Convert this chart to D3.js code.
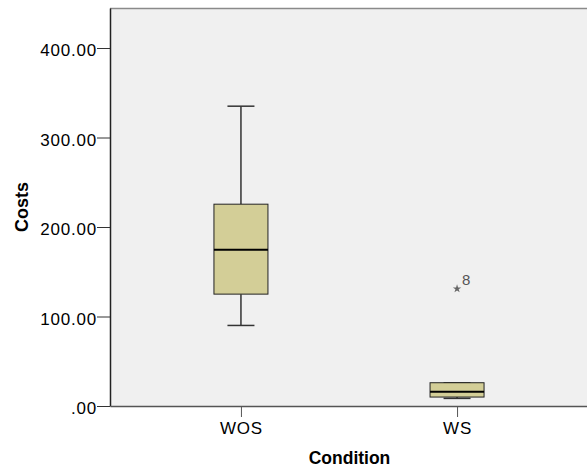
<!DOCTYPE html>
<html><head><meta charset="utf-8">
<script src="https://cdn.jsdelivr.net/npm/d3@7"></script>
<style>body{margin:0;background:#fff}svg{display:block;font-family:"Liberation Sans",Arial,sans-serif}</style>
</head><body><svg id="c" width="587" height="468"></svg>
<script>
const categories = ["WOS", "WS"];
const mins = [90, 8.5];
const q1s = [125, 10];
const medians = [174.5, 16];
const q3s = [225.5, 26];
const maxs = [335, 26];
const outliers = [{cat: "WS", value: 131, label: "8"}];
const yTicks = [0, 100, 200, 300, 400];

const svg = d3.select("#c");
const L = 110, R = 588, T = 8, B = 406;
const y = d3.scaleLinear().domain([0, 444.7]).range([B, T]);
const x = d3.scalePoint().domain(categories).range([L, R]).padding(0.606);

svg.append("rect").attr("x", L).attr("y", T).attr("width", R - L).attr("height", B - T).attr("fill", "#f0f0f0");
svg.append("line").attr("x1", L).attr("x2", R).attr("y1", T + 0.5).attr("y2", T + 0.5).attr("stroke", "#8a8a8a").attr("stroke-width", 1.5);

const bw = 54, cw = 27;
const data = categories.map((c, i) => ({c, min: mins[i], q1: q1s[i], med: medians[i], q3: q3s[i], max: maxs[i]}));
const g = svg.append("g");
data.forEach(d => {
  const cx = x(d.c);
  g.append("line").attr("x1", cx).attr("x2", cx).attr("y1", y(d.max)).attr("y2", y(d.q3)).attr("stroke", "#333").attr("stroke-width", 1.5);
  g.append("line").attr("x1", cx).attr("x2", cx).attr("y1", y(d.q1)).attr("y2", y(d.min)).attr("stroke", "#333").attr("stroke-width", 1.5);
  g.append("line").attr("x1", cx - cw / 2).attr("x2", cx + cw / 2).attr("y1", y(d.max)).attr("y2", y(d.max)).attr("stroke", "#333").attr("stroke-width", 1.5);
  g.append("line").attr("x1", cx - cw / 2).attr("x2", cx + cw / 2).attr("y1", y(d.min)).attr("y2", y(d.min)).attr("stroke", "#333").attr("stroke-width", 1.5);
  g.append("rect").attr("x", cx - bw / 2).attr("y", y(d.q3)).attr("width", bw).attr("height", y(d.q1) - y(d.q3))
    .attr("fill", "#d3ce97").attr("stroke", "#222").attr("stroke-width", 1);
  g.append("line").attr("x1", cx - bw / 2).attr("x2", cx + bw / 2).attr("y1", y(d.med)).attr("y2", y(d.med)).attr("stroke", "#000").attr("stroke-width", 2);
});

outliers.forEach(o => {
  const cx = x(o.cat), cy = y(o.value);
  svg.append("path").attr("d", d3.symbol(d3.symbolStar, 22)()).attr("transform", `translate(${cx},${cy})`).attr("fill", "#666");
  svg.append("text").attr("x", cx + 5).attr("y", cy - 4).attr("font-size", 15).attr("fill", "#555").text(o.label);
});

const yAxis = svg.append("g").attr("transform", `translate(${L},0)`)
  .call(d3.axisLeft(y).tickValues(yTicks).tickSize(13).tickSizeOuter(0).tickPadding(0).tickFormat(v => v === 0 ? ".00" : d3.format(".2f")(v)));
yAxis.select(".domain").attr("stroke", "#222").attr("stroke-width", 1.5);
yAxis.selectAll(".tick line").attr("stroke", "#333");
yAxis.selectAll("text").attr("font-size", 17).attr("letter-spacing", "0.8px").attr("dy", "0.45em").attr("fill", "#000").attr("font-family", "Liberation Sans, Arial, sans-serif");

const xAxis = svg.append("g").attr("transform", `translate(0,${B})`)
  .call(d3.axisBottom(x).tickSize(11).tickSizeOuter(0).tickPadding(5));
xAxis.select(".domain").attr("stroke", "#555").attr("stroke-width", 1.5);
xAxis.selectAll(".tick line").attr("stroke", "#555");
xAxis.selectAll("text").attr("font-size", 17).attr("letter-spacing", "0.8px").attr("fill", "#000").attr("font-family", "Liberation Sans, Arial, sans-serif");

svg.append("text").attr("x", 349.5).attr("y", 464).attr("text-anchor", "middle").attr("font-size", 17.5).attr("font-weight", "bold").text("Condition");
svg.append("text").attr("transform", `translate(28,${(T + B) / 2}) rotate(-90)`).attr("text-anchor", "middle").attr("font-size", 18).attr("font-weight", "bold").text("Costs");
</script></body></html>
